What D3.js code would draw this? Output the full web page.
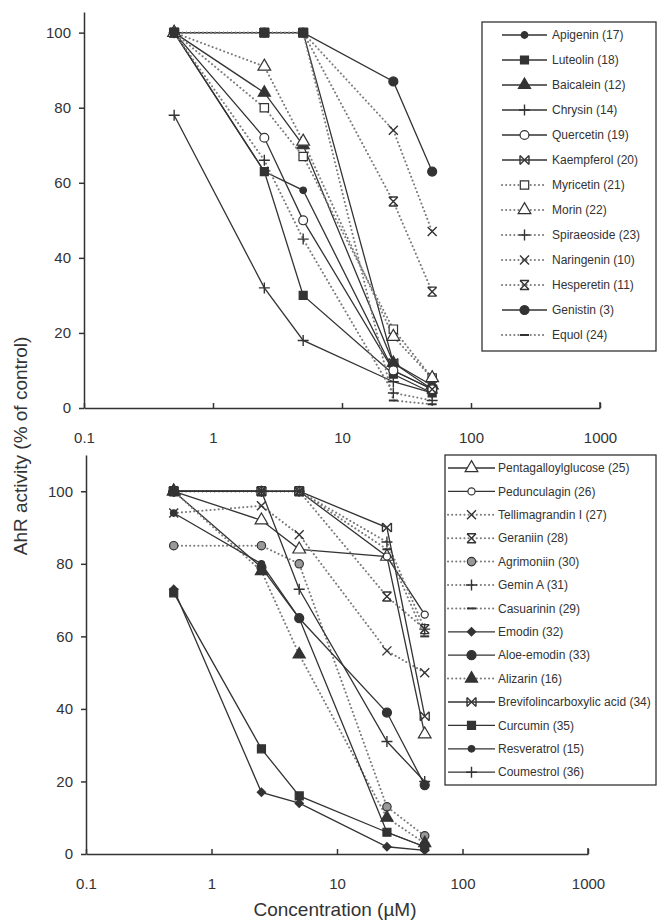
<!DOCTYPE html>
<html>
<head>
<meta charset="utf-8">
<script src="https://cdn.jsdelivr.net/npm/d3@7"></script>
<style>
  body { margin: 0; background: #fff; }
  svg { display: block; }
  text { font-family: "Liberation Sans", Arial, sans-serif; fill: #333; }
</style>
</head>
<body>
<div id="viz"></div>
<script>
// concentrations tested (uM) and axis ticks
const concentrations = [0.5, 2.5, 5, 25, 50];
const xTickValues = [0.1, 1, 10, 100, 1000];
const yTickValues = [0, 20, 40, 60, 80, 100];

// upper panel: flavonoids, % of control
const flavonoidNames = [
  "Apigenin (17)", "Luteolin (18)", "Baicalein (12)", "Chrysin (14)",
  "Quercetin (19)", "Kaempferol (20)", "Myricetin (21)", "Morin (22)",
  "Spiraeoside (23)", "Naringenin (10)", "Hesperetin (11)", "Genistin (3)", "Equol (24)"
];
const flavonoidValues = [
  [100, 63, 58, 10, 5],
  [100, 63, 30, 9, 4],
  [100, 84, 70, 12, 6],
  [78, 32, 18, 7, 4],
  [100, 72, 50, 10, 5],
  [100, 100, 100, 12, 5],
  [100, 80, 67, 21, 8],
  [100, 91, 71, 19, 8],
  [100, 66, 45, 4, 2],
  [100, 100, 100, 74, 47],
  [100, 100, 100, 55, 31],
  [100, 100, 100, 87, 63],
  [100, 100, 100, 2, 1]
];

// lower panel: tannins and others, % of control
const otherNames = [
  "Pentagalloylglucose (25)", "Pedunculagin (26)", "Tellimagrandin I (27)", "Geraniin (28)",
  "Agrimoniin (30)", "Gemin A (31)", "Casuarinin (29)", "Emodin (32)", "Aloe-emodin (33)",
  "Alizarin (16)", "Brevifolincarboxylic acid (34)", "Curcumin (35)", "Resveratrol (15)", "Coumestrol (36)"
];
const otherValues = [
  [100, 92, 84, 82, 33],
  [100, 100, 100, 82, 66],
  [94, 96, 88, 56, 50],
  [100, 100, 100, 71, 62],
  [85, 85, 80, 13, 5],
  [100, 100, 100, 86, 62],
  [100, 100, 100, 84, 60],
  [73, 17, 14, 2, 1],
  [100, 79, 65, 39, 19],
  [100, 78, 55, 10, 3],
  [100, 100, 100, 90, 38],
  [72, 29, 16, 6, 2],
  [94, 80, 65, 6, 2],
  [100, 100, 73, 31, 20]
];

// marker / line look per series (dotted = dotted line)
const flavonoidStyles = [
  {m: "dot"}, {m: "square"}, {m: "tri"}, {m: "plus"}, {m: "ocircle"}, {m: "bowtie"},
  {m: "osquare", dotted: true}, {m: "otri", dotted: true}, {m: "plus", dotted: true},
  {m: "x", dotted: true}, {m: "hourglass", dotted: true}, {m: "bigdot"}, {m: "dash", dotted: true}
];
const otherStyles = [
  {m: "otri"}, {m: "smallocircle"}, {m: "x", dotted: true}, {m: "hourglass", dotted: true},
  {m: "gcircle", dotted: true}, {m: "plus", dotted: true}, {m: "dash", dotted: true},
  {m: "diamond"}, {m: "bigdot"}, {m: "tri", dotted: true}, {m: "bowtie"}, {m: "square"},
  {m: "dot"}, {m: "plus"}
];

const ink = "#333", dotInk = "#7a7a7a";

const svg = d3.select("#viz").append("svg").attr("width", 657).attr("height", 922);

function marker(g, type, cx, cy) {
  const s = 4.5;
  const sym = (t, size, fill) => g.append("path")
    .attr("d", d3.symbol().type(t).size(size)())
    .attr("transform", `translate(${cx},${cy})`)
    .attr("fill", fill).attr("stroke", ink).attr("stroke-width", 1.2);
  const strokePath = d => g.append("path").attr("d", d)
    .attr("transform", `translate(${cx},${cy})`)
    .attr("fill", "none").attr("stroke", ink).attr("stroke-width", 1.4);
  switch (type) {
    case "dot": return sym(d3.symbolCircle, 34, ink);
    case "bigdot": return sym(d3.symbolCircle, 64, ink);
    case "square": return sym(d3.symbolSquare, 64, ink);
    case "tri": return sym(d3.symbolTriangle, 64, ink);
    case "diamond":
      return g.append("path").attr("d", "M0,-5L5,0L0,5L-5,0Z")
        .attr("transform", `translate(${cx},${cy})`).attr("fill", ink);
    case "ocircle": return sym(d3.symbolCircle, 62, "#fff");
    case "smallocircle": return sym(d3.symbolCircle, 40, "#fff");
    case "gcircle": return sym(d3.symbolCircle, 55, "#999");
    case "osquare": return sym(d3.symbolSquare, 70, "#fff");
    case "otri": return sym(d3.symbolTriangle, 70, "#fff");
    case "plus": return strokePath(`M${-s - 1},0H${s + 1}M0,${-s - 1}V${s + 1}`);
    case "x": return strokePath(`M${-s},${-s}L${s},${s}M${s},${-s}L${-s},${s}`);
    case "bowtie": return strokePath(`M${-s},${-s}L${s},${s}M${s},${-s}L${-s},${s}M${-s},${-s}V${s}M${s},${-s}V${s}`);
    case "hourglass": return strokePath(`M${-s},${-s}L${s},${s}M${s},${-s}L${-s},${s}M${-s},${-s}H${s}M${-s},${s}H${s}`);
    case "dash": return strokePath(`M${-s},0H${s}`).attr("stroke-width", 2);
  }
}

function styleLine(p, st) {
  p.attr("fill", "none");
  if (st.dotted) {
    p.attr("stroke", dotInk).attr("stroke-width", 2)
      .attr("stroke-dasharray", "0.1,4").attr("stroke-linecap", "round");
  } else {
    p.attr("stroke", ink).attr("stroke-width", 1.3);
  }
  return p;
}

function drawPanel(cfg) {
  const x = d3.scaleLog().domain([0.1, 1000]).range(cfg.xRange);
  const y = d3.scaleLinear().domain(cfg.yDomain).range(cfg.yRange);
  const g = svg.append("g");

  // series lines then markers
  const line = d3.line().x((d, i) => x(concentrations[i])).y(d => y(d));
  cfg.values.forEach((vals, k) => styleLine(g.append("path").attr("d", line(vals)), cfg.styles[k]));
  cfg.values.forEach((vals, k) =>
    vals.forEach((v, i) => marker(g, cfg.styles[k].m, x(concentrations[i]), y(v))));

  // axes
  const yAxis = g.append("g").attr("transform", `translate(${cfg.xRange[0]},0)`)
    .call(d3.axisLeft(y).tickValues(yTickValues).tickSize(5).tickSizeOuter(0).tickPadding(8));
  const xAxis = g.append("g").attr("transform", `translate(0,${cfg.yRange[0]})`)
    .call(d3.axisBottom(x).tickValues(xTickValues).tickFormat(d3.format("~g"))
      .tickSizeInner(-5).tickSizeOuter(0).tickPadding(24));
  [yAxis, xAxis].forEach(a => {
    a.selectAll("path,line").attr("stroke", ink).attr("stroke-width", 1.5);
    a.selectAll("text").attr("font-size", 15).attr("fill", ink)
      .attr("font-family", "'Liberation Sans', Arial, sans-serif");
  });
  xAxis.append("line").attr("x1", cfg.xRange[1]).attr("x2", cfg.xRange[1])
    .attr("y1", 0).attr("y2", -6).attr("stroke", ink).attr("stroke-width", 1.5);

  // legend
  const L = cfg.legend;
  const lg = svg.append("g");
  lg.append("rect").attr("x", L.x).attr("y", L.y).attr("width", L.w).attr("height", L.h)
    .attr("fill", "#fff").attr("stroke", ink).attr("stroke-width", 1.3);
  cfg.names.forEach((name, k) => {
    const ry = L.row0 + k * L.step;
    styleLine(lg.append("path").attr("d", `M${L.lx0},${ry}H${L.lx1}`), cfg.styles[k]);
    marker(lg, cfg.styles[k].m, (L.lx0 + L.lx1) / 2, ry);
    lg.append("text").attr("x", L.tx).attr("y", ry).attr("dy", "0.35em")
      .attr("font-size", 12).text(name);
  });
}

drawPanel({
  xRange: [84, 600], yDomain: [0, 105.5], yRange: [408, 12],
  values: flavonoidValues, styles: flavonoidStyles, names: flavonoidNames,
  legend: {x: 482, y: 22, w: 174, h: 329, row0: 35, step: 25, lx0: 502, lx1: 547, tx: 552}
});
drawPanel({
  xRange: [86, 588], yDomain: [0, 110], yRange: [854, 455],
  values: otherValues, styles: otherStyles, names: otherNames,
  legend: {x: 445, y: 455, w: 211, h: 330, row0: 468, step: 23.4, lx0: 448, lx1: 495, tx: 498}
});

// axis titles
svg.append("text").attr("transform", "translate(27,446) rotate(-90)")
  .attr("text-anchor", "middle").attr("font-size", 19).text("AhR activity (% of control)");
svg.append("text").attr("x", 335).attr("y", 916)
  .attr("text-anchor", "middle").attr("font-size", 19).text("Concentration (µM)");
</script>
</body>
</html>
